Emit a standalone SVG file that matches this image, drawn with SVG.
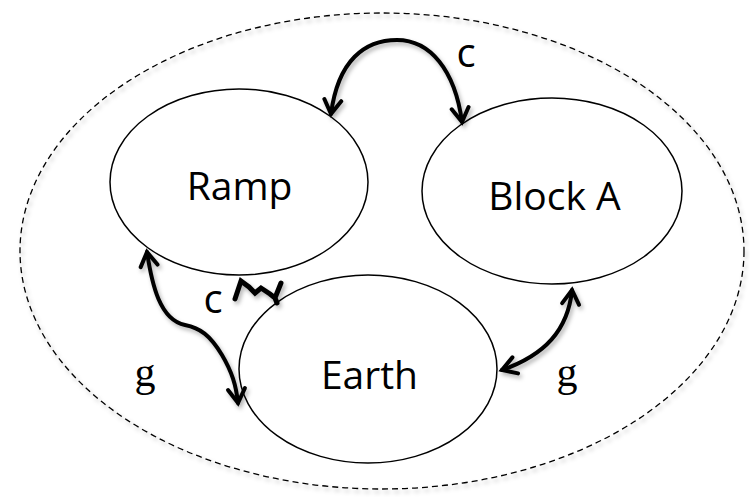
<svg xmlns="http://www.w3.org/2000/svg" width="750" height="497" viewBox="0 0 750 497">
  <style>
    .node { fill: #ffffff; stroke: #000000; stroke-width: 1.5; }
    .lbl { font-family: "Open Sans", "Liberation Sans", sans-serif; font-size: 39px; fill: #000; text-anchor: middle; }
    .cl { font-family: "Open Sans", "Liberation Sans", sans-serif; font-size: 40px; fill: #000; text-anchor: middle; }
    .gl { font-family: "Liberation Serif", "DejaVu Serif", serif; font-size: 42px; fill: #000; text-anchor: middle; }
    .conn { fill: none; stroke: #000; stroke-width: 4; stroke-linecap: round; stroke-linejoin: round; }
  </style>
  <defs>
    <filter id="sh" x="-20%" y="-20%" width="140%" height="140%">
      <feDropShadow dx="2" dy="3" stdDeviation="2" flood-color="#000" flood-opacity="0.3"/>
    </filter>
    <marker id="chev" viewBox="0 0 22 22" refX="18" refY="11" markerWidth="22" markerHeight="22" markerUnits="userSpaceOnUse" orient="auto-start-reverse">
      <path d="M4,2.5 L18,11 L4,19.5" fill="none" stroke="#000" stroke-width="4" stroke-linecap="round" stroke-linejoin="miter"/>
    </marker>
  </defs>
  <rect width="750" height="497" fill="#ffffff"/>

  <g id="system">
    <ellipse cx="382" cy="251" rx="362" ry="238" fill="none" stroke="#000" stroke-width="1.3" stroke-dasharray="6,4" filter="url(#sh)"/>
  </g>

  <g id="ramp">
    <ellipse class="node" cx="239" cy="182" rx="129" ry="93"/>
    <text class="lbl" x="239.5" y="200">Ramp</text>
  </g>
  <g id="blockA">
    <ellipse class="node" cx="552" cy="191" rx="130" ry="93"/>
    <text class="lbl" x="554.5" y="210">Block A</text>
  </g>
  <g id="earth">
    <ellipse class="node" cx="368" cy="369" rx="129" ry="94"/>
    <text class="lbl" x="369.5" y="389">Earth</text>
  </g>

  <g id="connectors" filter="url(#sh)">
    <path class="conn" d="M331,114 C 338,60 365,40 397,40 C 430,40 455,70 462,122" marker-start="url(#chev)" marker-end="url(#chev)"/>
    <path class="conn" d="M147,252 C 152,285 160,320 185,325 C 200,328 210,335 222,355 C 232,372 236,385 238,403" marker-start="url(#chev)" marker-end="url(#chev)"/>
    <path class="conn" d="M572,290 C 568,330 545,355 502,370" marker-start="url(#chev)" marker-end="url(#chev)"/>
    <path d="M235,299 L241,281 L249,287 L255,293 L261,288 L270,294 L275,298 L281,283 M275,298 L277,303" fill="none" stroke="#000" stroke-width="5" stroke-linejoin="miter" stroke-linecap="round"/>
  </g>

  <g id="labels">
    <text class="cl" x="466" y="67">c</text>
    <text class="cl" x="213" y="313">c</text>
    <text class="gl" x="145" y="386">g</text>
    <text class="gl" x="567" y="386">g</text>
  </g>
</svg>
